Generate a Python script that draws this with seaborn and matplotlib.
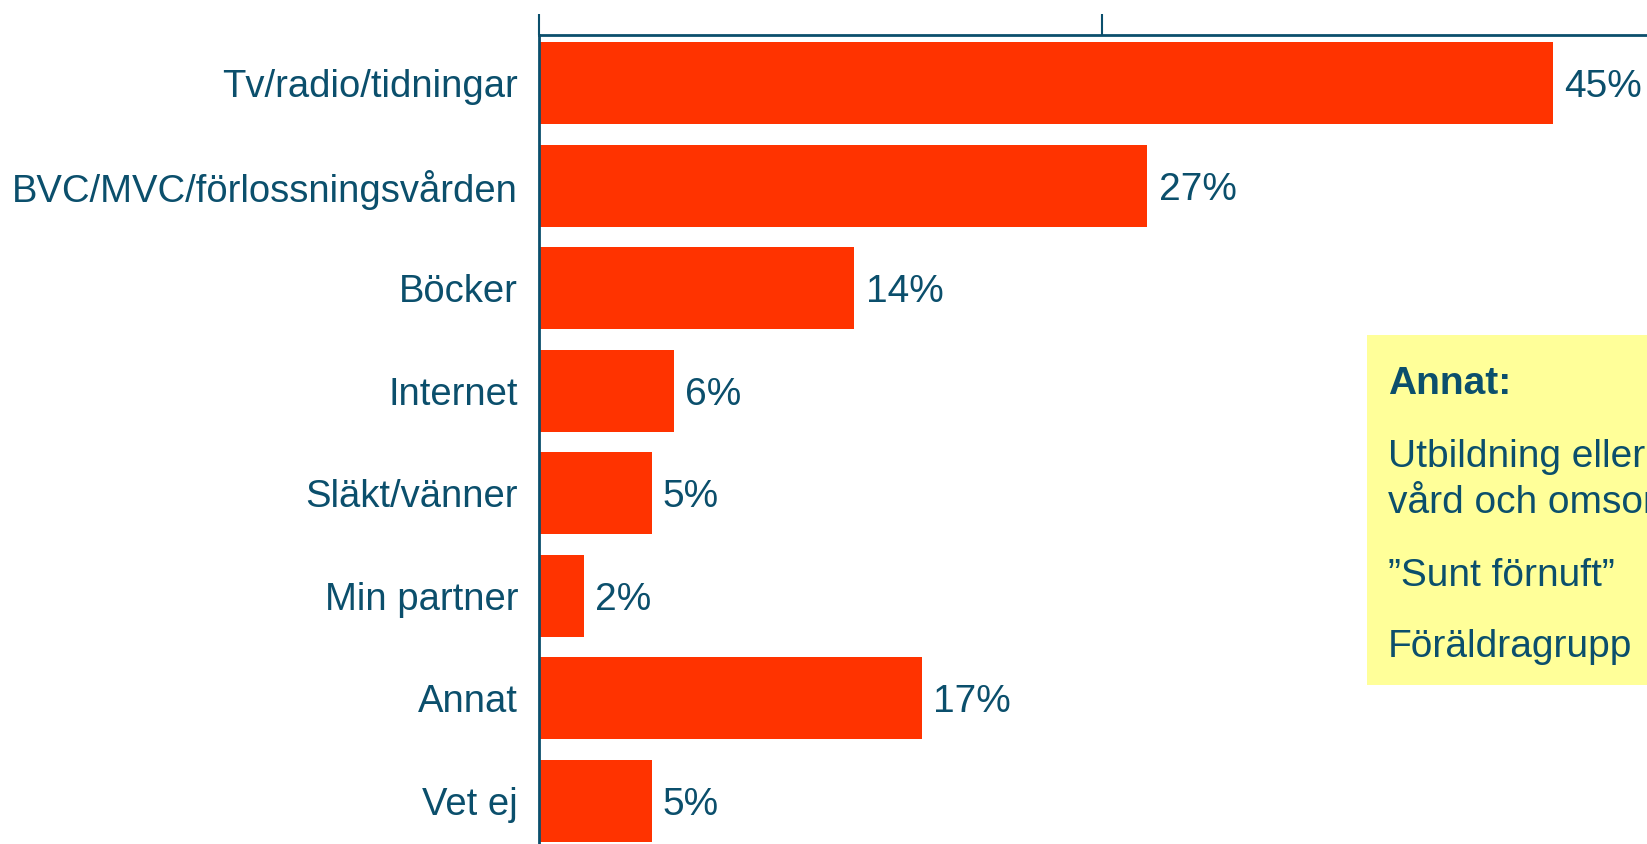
import matplotlib
matplotlib.use("Agg")
import matplotlib.pyplot as plt
import seaborn as sns
import pandas as pd
from matplotlib.patches import Rectangle

categories = ["Tv/radio/tidningar", "BVC/MVC/förlossningsvården", "Böcker", "Internet",
              "Släkt/vänner", "Min partner", "Annat", "Vet ej"]
values = [45, 27, 14, 6, 5, 2, 17, 5]
value_labels = ["45%", "27%", "14%", "6%", "5%", "2%", "17%", "5%"]
xticks = [0, 25, 50]
box_title = "Annat:"
box_lines = ["Utbildning eller arbete inom", "vård och omsorg", "\u201dSunt förnuft\u201d", "Föräldragrupp"]

TEXT = "#0B4F6C"
BAR = "#FF3300"

sns.set_theme(style="white")
plt.rcParams["font.family"] = ["Liberation Sans", "DejaVu Sans"]

df = pd.DataFrame({"cat": categories, "val": values})

W, H = 1647, 844
fig = plt.figure(figsize=(W / 100, H / 100), dpi=100)
left = 539 / W
top = 1 - 35 / H
ax = fig.add_axes([left, 0, 1 - left, top])

sns.barplot(data=df, x="val", y="cat", color=BAR, saturation=1, width=0.8, ax=ax, orient="h")
for p in ax.patches:
    p.set_edgecolor("none")

ax.xaxis.tick_top()
ax.set_xticks(xticks)
ax.set_xticklabels([])
ax.set_xlim(0, (W - 539) / 22.53)
ax.set_ylim(7.42, -0.47)
ax.tick_params(axis="x", direction="out", length=15, width=1.5, color=TEXT, top=True, bottom=False)
ax.tick_params(axis="y", length=0, labelcolor=TEXT, labelsize=27.5, pad=15)
ax.set_xlabel("")
ax.set_ylabel("")
for s in ["right", "bottom"]:
    ax.spines[s].set_visible(False)
for s in ["top", "left"]:
    ax.spines[s].set_color(TEXT)
    ax.spines[s].set_linewidth(2)

for i, (v, lab) in enumerate(zip(values, value_labels)):
    ax.text(v + 0.5, i, lab, va="center_baseline", ha="left", fontsize=28, color=TEXT)

# Annotation box (in figure pixels)
bx0, by0, bx1, by1 = 1367, 335, 1700, 685
fig.patches.append(Rectangle((bx0 / W, 1 - by1 / H), (bx1 - bx0) / W, (by1 - by0) / H,
                             transform=fig.transFigure, facecolor="#FFFF99", edgecolor="none", zorder=5))
fig.text(1388 / W, 1 - 394 / H, box_title, fontsize=28, fontweight="bold", color=TEXT,
         va="baseline", zorder=6)
baselines = [467, 513, 586, 657]
for y, t in zip(baselines, box_lines):
    fig.text(1388 / W, 1 - y / H, t, fontsize=28, color=TEXT, va="baseline", zorder=6)

fig.savefig("out.png", dpi=100)
